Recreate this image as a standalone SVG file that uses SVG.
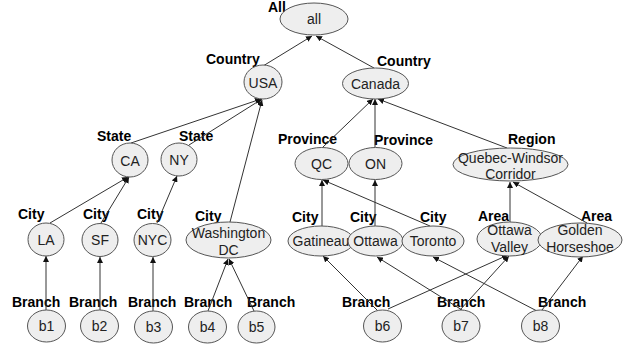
<svg xmlns="http://www.w3.org/2000/svg" width="624" height="349" viewBox="0 0 624 349">
  <style>
    .node ellipse { fill: #eeeeee; stroke: #555555; stroke-width: 1; }
    .node text { font-family: "Liberation Sans", Arial, sans-serif; font-size: 14px; fill: #222222; text-anchor: middle; }
    .lvl { font-family: "Liberation Sans", Arial, sans-serif; font-size: 14px; font-weight: bold; fill: #000000; }
    .edge { stroke: #333333; stroke-width: 1; fill: none; marker-end: url(#arrow); }
  </style>
  <defs>
    <marker id="arrow" viewBox="0 0 10 10" refX="10" refY="5" markerWidth="6" markerHeight="6" markerUnits="userSpaceOnUse" orient="auto">
      <path d="M0,0 L10,5 L0,10 Z" fill="#111111"/>
    </marker>
  </defs>
  <rect width="624" height="349" fill="#ffffff"/>

  <!-- level labels -->
  <g id="labels">
    <text class="lvl" x="268" y="12">All</text>
    <text class="lvl" x="206" y="64">Country</text>
    <text class="lvl" x="377" y="66">Country</text>
    <text class="lvl" x="97" y="141">State</text>
    <text class="lvl" x="179" y="141">State</text>
    <text class="lvl" x="278" y="144">Province</text>
    <text class="lvl" x="374" y="145">Province</text>
    <text class="lvl" x="508" y="144">Region</text>
    <text class="lvl" x="18" y="219">City</text>
    <text class="lvl" x="83" y="219">City</text>
    <text class="lvl" x="137" y="219">City</text>
    <text class="lvl" x="195" y="221">City</text>
    <text class="lvl" x="292" y="222">City</text>
    <text class="lvl" x="350" y="222">City</text>
    <text class="lvl" x="420" y="222">City</text>
    <text class="lvl" x="478" y="221">Area</text>
    <text class="lvl" x="581" y="221">Area</text>
    <text class="lvl" x="12" y="307">Branch</text>
    <text class="lvl" x="69" y="307">Branch</text>
    <text class="lvl" x="128" y="307">Branch</text>
    <text class="lvl" x="184" y="307">Branch</text>
    <text class="lvl" x="247" y="307">Branch</text>
    <text class="lvl" x="342" y="307">Branch</text>
    <text class="lvl" x="437" y="307">Branch</text>
    <text class="lvl" x="538" y="307">Branch</text>
  </g>

  <!-- connectors: child to parent -->
  <g id="connectors">
    <path class="edge" d="M263,66 L312,36"/>
    <path class="edge" d="M374,68 L316,36"/>
    <path class="edge" d="M131,143 L261,99"/>
    <path class="edge" d="M189,145 L262,99"/>
    <path class="edge" d="M230,222 L262,100"/>
    <path class="edge" d="M50,223 L128,177"/>
    <path class="edge" d="M101,223 L129,177"/>
    <path class="edge" d="M157,223 L177,176"/>
    <path class="edge" d="M46,310 L46,256"/>
    <path class="edge" d="M100,310 L100,257"/>
    <path class="edge" d="M153,311 L153,257"/>
    <path class="edge" d="M208,311 L228,259"/>
    <path class="edge" d="M254,311 L229,259"/>
    <path class="edge" d="M323,147 L373,99"/>
    <path class="edge" d="M375,147 L375,99"/>
    <path class="edge" d="M507,148 L378,99"/>
    <path class="edge" d="M322,226 L322,180"/>
    <path class="edge" d="M430,226 L323,180"/>
    <path class="edge" d="M375,226 L375,180"/>
    <path class="edge" d="M510,222 L510,182"/>
    <path class="edge" d="M587,223 L513,182"/>
    <path class="edge" d="M377,310 L323,256"/>
    <path class="edge" d="M388,309 L508,255"/>
    <path class="edge" d="M462,310 L377,257"/>
    <path class="edge" d="M460,310 L509,256"/>
    <path class="edge" d="M537,311 L433,257"/>
    <path class="edge" d="M542,310 L583,256"/>
  </g>

  <!-- nodes -->
  <g id="n-all" class="node"><ellipse cx="314" cy="19" rx="34" ry="16"/><text x="314" y="24">all</text></g>
  <g id="n-usa" class="node"><ellipse cx="263" cy="82" rx="19" ry="17"/><text x="263" y="88">USA</text></g>
  <g id="n-canada" class="node"><ellipse cx="375.5" cy="83.5" rx="33" ry="15.5"/><text x="375.5" y="89">Canada</text></g>
  <g id="n-ca" class="node"><ellipse cx="130" cy="160" rx="18" ry="17"/><text x="130" y="166">CA</text></g>
  <g id="n-ny" class="node"><ellipse cx="179" cy="159.5" rx="18" ry="16.5"/><text x="179" y="165">NY</text></g>
  <g id="n-qc" class="node"><ellipse cx="321.5" cy="163.5" rx="26.5" ry="16"/><text x="321.5" y="169">QC</text></g>
  <g id="n-on" class="node"><ellipse cx="375.5" cy="163.5" rx="26.5" ry="16"/><text x="375.5" y="169">ON</text></g>
  <g id="n-qwc" class="node"><ellipse cx="510.5" cy="164.5" rx="57.5" ry="16.5"/><text x="510.5" y="163">Quebec-Windsor</text><text x="510.5" y="179">Corridor</text></g>
  <g id="n-la" class="node"><ellipse cx="46" cy="239.5" rx="18" ry="16.5"/><text x="46" y="245">LA</text></g>
  <g id="n-sf" class="node"><ellipse cx="100" cy="240" rx="18" ry="16.5"/><text x="100" y="245">SF</text></g>
  <g id="n-nyc" class="node"><ellipse cx="152.5" cy="240" rx="18.5" ry="16.5"/><text x="152.5" y="245">NYC</text></g>
  <g id="n-dc" class="node"><ellipse cx="228.5" cy="240" rx="42.5" ry="18"/><text x="228.5" y="238">Washington</text><text x="228.5" y="255">DC</text></g>
  <g id="n-gatineau" class="node"><ellipse cx="321" cy="241" rx="33" ry="15"/><text x="321" y="246">Gatineau</text></g>
  <g id="n-ottawa" class="node"><ellipse cx="375.5" cy="241" rx="27.5" ry="15"/><text x="375.5" y="246">Ottawa</text></g>
  <g id="n-toronto" class="node"><ellipse cx="433" cy="241" rx="31" ry="15"/><text x="433" y="246">Toronto</text></g>
  <g id="n-ov" class="node"><ellipse cx="509.5" cy="239" rx="32.5" ry="17"/><text x="509.5" y="235">Ottawa</text><text x="509.5" y="252">Valley</text></g>
  <g id="n-gh" class="node"><ellipse cx="580" cy="240" rx="42" ry="17"/><text x="580" y="235">Golden</text><text x="580" y="252">Horseshoe</text></g>
  <g id="n-b1" class="node"><ellipse cx="46.5" cy="326" rx="19" ry="16"/><text x="46.5" y="331">b1</text></g>
  <g id="n-b2" class="node"><ellipse cx="99.5" cy="326" rx="19" ry="16"/><text x="99.5" y="331">b2</text></g>
  <g id="n-b3" class="node"><ellipse cx="153.5" cy="327" rx="19" ry="16"/><text x="153.5" y="332">b3</text></g>
  <g id="n-b4" class="node"><ellipse cx="207.5" cy="327" rx="19" ry="16"/><text x="207.5" y="332">b4</text></g>
  <g id="n-b5" class="node"><ellipse cx="256.5" cy="327" rx="18.5" ry="16"/><text x="256.5" y="332">b5</text></g>
  <g id="n-b6" class="node"><ellipse cx="382.5" cy="326" rx="19" ry="16"/><text x="382.5" y="331">b6</text></g>
  <g id="n-b7" class="node"><ellipse cx="461" cy="326" rx="19" ry="16"/><text x="461" y="331">b7</text></g>
  <g id="n-b8" class="node"><ellipse cx="540.5" cy="326" rx="19" ry="16"/><text x="540.5" y="331">b8</text></g>
</svg>
